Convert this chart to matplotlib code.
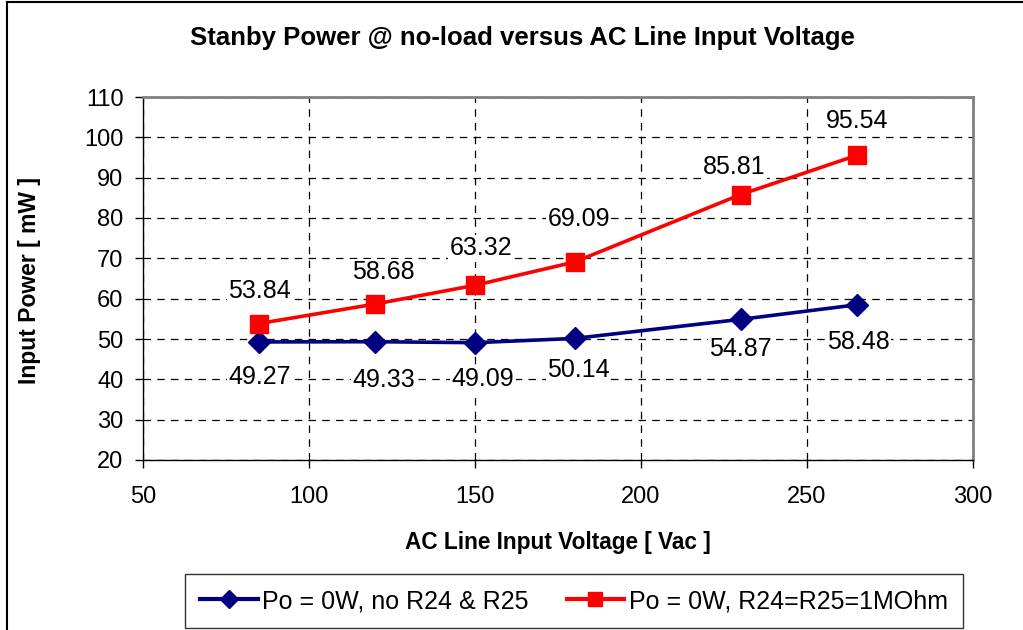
import matplotlib
matplotlib.use("Agg")
import matplotlib.pyplot as plt
from matplotlib.lines import Line2D

voltage = [85, 120, 150, 180, 230, 265]
power_no_r = [49.27, 49.33, 49.09, 50.14, 54.87, 58.48]
power_1mohm = [53.84, 58.68, 63.32, 69.09, 85.81, 95.54]
labels_no_r = ["49.27", "49.33", "49.09", "50.14", "54.87", "58.48"]
labels_1mohm = ["53.84", "58.68", "63.32", "69.09", "85.81", "95.54"]
series_names = ["Po = 0W, no R24 & R25", "Po = 0W, R24=R25=1MOhm"]
x_ticks = [50, 100, 150, 200, 250, 300]
y_ticks = [20, 30, 40, 50, 60, 70, 80, 90, 100, 110]

# label offsets in pixels (layout only)
off_no_r = [(0, -35), (8, -38), (8, -36), (4, -32), (0, -30), (2, -37)]
off_1mohm = [(0, 33), (8, 32), (6, 37), (4, 43), (-6, 28), (0, 34)]

plt.rcParams['font.family'] = ['Liberation Sans', 'DejaVu Sans']

W, H = 1023, 630
PX = 72 / 100  # points per pixel
fig = plt.figure(figsize=(W/100, H/100), dpi=100)
ax = fig.add_axes([143/W, 1-460/H, (973-143)/W, (460-97)/H])

blue = "#000080"
red = "#FF0000"
ax.plot(voltage, power_no_r, color=blue, lw=2.6, marker="D", ms=11, mfc=blue, mec=blue, zorder=3)
ax.plot(voltage, power_1mohm, color=red, lw=2.6, marker="s", ms=12.5, mfc=red, mec=red, zorder=3)

bb = dict(boxstyle="square,pad=0.05", fc="white", ec="none")
for x, y, t, o in zip(voltage, power_no_r, labels_no_r, off_no_r):
    ax.annotate(t, (x, y), xytext=(o[0]*PX, o[1]*PX), textcoords="offset points",
                ha="center", va="center", fontsize=18, color="black", zorder=2.5, bbox=bb)
for x, y, t, o in zip(voltage, power_1mohm, labels_1mohm, off_1mohm):
    ax.annotate(t, (x, y), xytext=(o[0]*PX, o[1]*PX), textcoords="offset points",
                ha="center", va="center", fontsize=18, color="black", zorder=2.5, bbox=bb)

ax.set_xlim(50, 300)
ax.set_ylim(20, 110)
ax.set_xticks(x_ticks)
ax.set_yticks(y_ticks)
ax.tick_params(axis="both", labelsize=17, direction="out", length=6, width=1, color="black")
ax.tick_params(axis="x", pad=13)
ax.tick_params(axis="y", pad=8)
ax.grid(True, color="black", linestyle=(0, (6, 5)), linewidth=0.9)
ax.set_axisbelow(True)
for side in ["top", "right"]:
    ax.spines[side].set_color("#808080")
    ax.spines[side].set_linewidth(2)
for side in ["left", "bottom"]:
    ax.spines[side].set_color("black")
    ax.spines[side].set_linewidth(1)

fig.text(522/W, 1-38/H, "Stanby Power @ no-load versus AC Line Input Voltage",
         ha="center", va="center", fontsize=18.5, fontweight="bold")
fig.text(558/W, 1-543/H, "AC Line Input Voltage [ Vac ]",
         ha="center", va="center", fontsize=16.3, fontweight="bold")
fig.text(30/W, 1-281/H, "Input Power [ mW ]", rotation=90,
         ha="center", va="center", fontsize=16.5, fontweight="bold")

handles = [Line2D([], [], color=blue, lw=3, marker="D", ms=9),
           Line2D([], [], color=red, lw=3, marker="s", ms=10)]
leg = fig.legend(handles, series_names, loc="center", bbox_to_anchor=(574/W, 1-601/H),
                 ncol=2, fontsize=18, frameon=True, fancybox=False, edgecolor="black",
                 handlelength=2.3, columnspacing=1.5, borderpad=0.6, handletextpad=0.2,
                 borderaxespad=0)
leg.get_frame().set_linewidth(1)

# outer chart frame (left and top edges visible)
fig.add_artist(Line2D([7/W, 7/W], [0, 1-2/H], color="black", lw=1.5, transform=fig.transFigure))
fig.add_artist(Line2D([7/W, 1], [1-2/H, 1-2/H], color="black", lw=1.5, transform=fig.transFigure))

fig.savefig("out.png", dpi=100)
